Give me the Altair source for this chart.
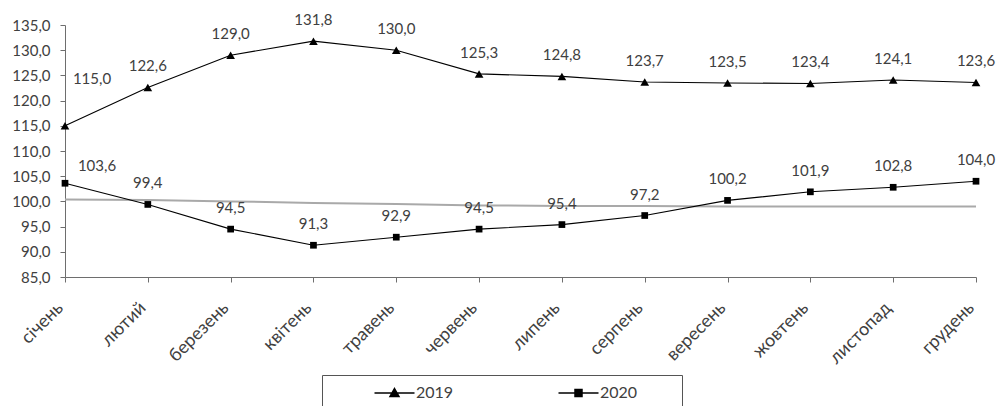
import altair as alt
import pandas as pd

# Monthly index values (per cent) for 2019 and 2020, with a grey baseline series
months = ["січень", "лютий", "березень", "квітень", "травень", "червень",
          "липень", "серпень", "вересень", "жовтень", "листопад", "грудень"]
values_2019 = [115.0, 122.6, 129.0, 131.8, 130.0, 125.3, 124.8, 123.7, 123.5, 123.4, 124.1, 123.6]
values_2020 = [103.6, 99.4, 94.5, 91.3, 92.9, 94.5, 95.4, 97.2, 100.2, 101.9, 102.8, 104.0]
baseline = [100.4, 100.3, 100.0, 99.7, 99.5, 99.2, 99.1, 99.1, 99.0, 99.0, 99.0, 99.0]
series_names = ["2019", "2020"]
y_ticks = [85, 90, 95, 100, 105, 110, 115, 120, 125, 130, 135]

FONT = "Lato"
TEXT = "#404040"
AXIS = "#6e6e6e"

rows = []
for name, vals in zip(series_names, [values_2019, values_2020]):
    for m, v in zip(months, vals):
        rows.append({"month": m, "series": name, "value": v})
df = pd.DataFrame(rows)
df["label"] = df["value"].map(lambda v: f"{v:.1f}".replace(".", ","))
df_base = pd.DataFrame({"month": months, "value": baseline})

x_enc = alt.X(
    "month:N", sort=months, title=None,
    scale=alt.Scale(type="point", domain=months, padding=0),
    axis=alt.Axis(labelAngle=315, labelAlign="right", labelBaseline="middle",
                  labelFont=FONT, labelFontSize=18, labelColor=TEXT,
                  domainColor=AXIS, tickColor=AXIS, tickSize=5, labelPadding=23,
                  labelOffset=-5, grid=False),
)
y_enc = alt.Y(
    "value:Q", title=None,
    scale=alt.Scale(domain=[85, 135], nice=False, zero=False),
    axis=alt.Axis(values=y_ticks, labelExpr="replace(format(datum.value, '.1f'), '.', ',')",
                  labelFont=FONT, labelFontSize=15, labelColor=TEXT,
                  domainColor=AXIS, tickColor=AXIS, tickSize=5, labelPadding=10,
                  grid=False),
)

# Legend symbols: a short line with the series marker in the middle
sym_2019 = "M6.9,0H14.9M10.9,-0.9L11.8,0.7L10.0,0.7Z"
sym_2020 = "M6.9,0H14.9M10.2,-0.7H11.6V0.7H10.2Z"
legend = alt.Legend(
    orient="none", legendX=257, legendY=350, direction="horizontal", columns=2,
    strokeColor="#555555", fillColor="white", padding=10,
    labelFont=FONT, labelFontSize=16, labelColor=TEXT,
    symbolSize=100, labelOffset=68, columnPadding=62,
    # blank title on the right widens the frame
    title=".", titleColor="white", titleOrient="right", titleFontSize=16, titlePadding=30,
)

base_line = alt.Chart(df_base).mark_line(color="#a9a9a9", strokeWidth=2).encode(x=x_enc, y=y_enc)

series_lines = alt.Chart(df).mark_line(color="black", strokeWidth=1.1).encode(
    x=x_enc, y=y_enc, detail="series:N")

markers = alt.Chart(df).mark_point(filled=True, color="black", opacity=1).encode(
    x=x_enc, y=y_enc,
    shape=alt.Shape("series:N", scale=alt.Scale(domain=series_names,
                                                range=["triangle-up", "square"]), legend=None),
    size=alt.Size("series:N", scale=alt.Scale(domain=series_names, range=[75, 45]), legend=None),
)

# Legend-only layer: no rows pass the filter, the explicit domain still lists both series
legend_layer = alt.Chart(df).mark_point(
    filled=True, fill="black", stroke="black", strokeWidth=1, opacity=1
).encode(
    x=x_enc, y=y_enc,
    shape=alt.Shape("series:N", scale=alt.Scale(domain=series_names,
                                                range=[sym_2019, sym_2020]), legend=legend),
).transform_filter("false")

text_style = dict(font=FONT, fontSize=15, color=TEXT)
labels = alt.Chart(df).mark_text(dy=-21, **text_style).encode(
    x=x_enc, y=y_enc, text="label:N").transform_filter(alt.datum.month != months[0])
label_first_2019 = alt.Chart(df).mark_text(dx=27, dy=-47, **text_style).encode(
    x=x_enc, y=y_enc, text="label:N").transform_filter(
    (alt.datum.month == months[0]) & (alt.datum.series == "2019"))
label_first_2020 = alt.Chart(df).mark_text(dx=32, dy=-17, **text_style).encode(
    x=x_enc, y=y_enc, text="label:N").transform_filter(
    (alt.datum.month == months[0]) & (alt.datum.series == "2020"))

chart = alt.layer(
    base_line, series_lines, markers, legend_layer, labels, label_first_2019, label_first_2020
).resolve_scale(shape="independent", size="independent").properties(
    width=911, height=252,
    autosize=alt.AutoSizeParams(type="none"),
    padding={"left": 65, "top": 25, "right": 21, "bottom": 129},
    background="white",
).configure_view(stroke=None)

chart.save("out.html", embed_options={"renderer": "svg", "actions": False})
